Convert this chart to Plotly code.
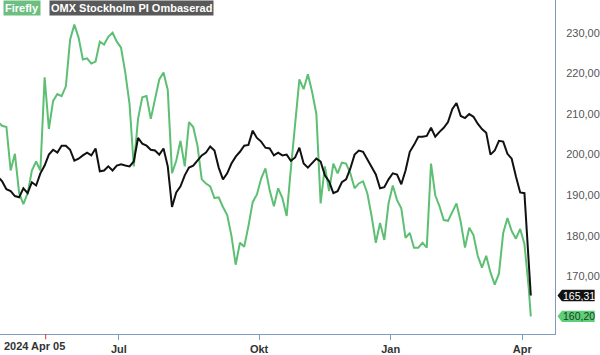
import plotly.graph_objects as go

# Trading-day index (0 = 2024-04-05), sampled every second trading day, last = 2025-04-07
day_index = list(range(0, 251, 2)) + [251]

firefly = [
    208.0, 207.1, 206.8, 196.1, 200.2, 190.5, 187.8, 190.5, 196.1, 198.3,
    196.1, 219.0, 206.3, 213.2, 214.9, 214.4, 216.8, 228.3, 232.0, 228.8,
    223.4, 223.7, 222.4, 222.9, 227.8, 227.1, 229.0, 230.0, 227.8, 226.3,
    220.2, 212.4, 197.1, 208.8, 214.1, 214.4, 208.8, 213.7, 218.5, 220.2,
    215.9, 195.4, 198.5, 203.4, 197.1, 208.0, 206.8, 202.2, 193.9, 192.9,
    192.2, 189.3, 189.5, 187.1, 185.1, 180.0, 172.9, 178.3, 177.3, 182.4,
    188.3, 190.2, 194.1, 196.6, 191.2, 187.3, 191.7, 189.3, 184.9, 196.6,
    207.1, 218.5, 216.1, 219.8, 215.4, 210.0, 188.0, 197.1, 191.0, 197.8,
    195.4, 198.0, 197.8, 195.4, 191.7, 192.9, 193.4, 190.5, 184.9, 178.3,
    183.2, 179.0, 188.0, 192.4, 188.8, 186.8, 179.5, 180.7, 177.1, 177.1,
    178.3, 177.1, 197.8, 190.0, 187.3, 183.9, 183.7, 185.9, 188.0, 183.4,
    177.1, 182.0, 180.2, 175.1, 172.2, 175.1, 171.0, 168.0, 170.7, 180.7,
    184.4, 181.2, 179.3, 181.7, 178.0, 167.3,
    160.20,
]

omx = [
    194.6, 193.4, 191.5, 191.0, 189.8, 189.5, 191.7, 190.5, 193.2, 192.4,
    195.4, 197.3, 200.0, 201.2, 200.5, 202.2, 202.2, 201.2, 198.5, 199.0,
    199.8, 200.5, 199.8, 201.5, 195.9, 196.1, 197.1, 196.1, 197.3, 197.6,
    197.3, 197.1, 198.3, 204.1, 202.7, 202.2, 201.2, 201.0, 200.0, 201.5,
    197.1, 187.1, 190.7, 192.2, 194.9, 196.8, 197.3, 198.5, 199.8, 200.5,
    202.0, 201.0, 196.8, 193.9, 195.4, 197.8, 199.5, 200.7, 202.2, 202.4,
    205.9, 204.1, 203.2, 201.7, 201.5, 199.8, 200.5, 199.8, 200.0, 198.5,
    199.3, 201.7, 197.8, 196.8, 198.0, 199.0, 198.3, 194.9, 193.4, 190.5,
    191.0, 193.2, 193.9, 196.6, 200.0, 201.0, 200.7, 198.8, 196.8, 195.1,
    191.7, 192.0, 193.9, 195.4, 195.1, 192.7, 196.1, 200.7, 202.4, 204.4,
    204.4, 204.6, 206.6, 204.4, 205.6, 206.6, 208.0, 211.2, 212.7, 209.5,
    209.0, 210.0, 209.3, 207.6, 206.3, 205.4, 200.0, 201.0, 203.4, 203.2,
    200.2, 199.0, 194.6, 190.7, 190.5, 173.4,
    165.31,
]

month_ticks = [57, 123, 185, 247]
month_labels = ["Jul", "Okt", "Jan", "Apr"]
y_ticks = [170, 180, 190, 200, 210, 220, 230]
y_labels = ["170,00", "180,00", "190,00", "200,00", "210,00", "220,00", "230,00"]
start_label = "2024 Apr 05"
event_day = 22.5

GREEN = "#5dbf73"
BLACK = "#111111"
AXIS = "#7f9cbf"
FONT = "Arial, Liberation Sans, sans-serif"

fig = go.Figure()
fig.add_trace(go.Scatter(x=day_index, y=firefly, mode="lines",
                         line=dict(color=GREEN, width=2), name="Firefly"))
fig.add_trace(go.Scatter(x=day_index, y=omx, mode="lines",
                         line=dict(color=BLACK, width=2), name="OMX Stockholm PI Ombaserad"))

fig.update_layout(
    width=600, height=355,
    margin=dict(l=0, r=40, t=0, b=18),
    paper_bgcolor="white", plot_bgcolor="white",
    showlegend=False,
    font=dict(family=FONT),
    xaxis=dict(range=[0.98, 262.4], showgrid=False, zeroline=False,
               showline=True, linecolor=AXIS, linewidth=1,
               tickvals=month_ticks, ticktext=month_labels,
               ticks="outside", ticklen=5, tickcolor=AXIS,
               tickfont=dict(size=11, color="#333333", weight="bold")),
    yaxis=dict(range=[155.85, 238.05], side="right", showgrid=False, zeroline=False,
               showline=True, linecolor=AXIS, linewidth=1,
               tickvals=y_ticks, ticktext=y_labels, ticks="",
               ticklabelstandoff=8,
               tickfont=dict(size=11, color="#555555")),
)

# red event tick
fig.add_shape(type="line", xref="x", yref="paper", x0=event_day, x1=event_day,
              y0=0, y1=-0.016, line=dict(color="#e03030", width=1))

fig.add_annotation(xref="paper", yref="paper", x=0.003, y=-0.036, xanchor="left",
                   yanchor="middle", text=start_label, showarrow=False,
                   font=dict(size=11, color="#333333", weight="bold"))

# legend boxes
fig.add_annotation(xref="paper", yref="paper", x=0.005, y=1.0, xanchor="left", yanchor="top",
                   text="Firefly", showarrow=False, bgcolor="#6cbf80", borderpad=1,
                   font=dict(size=11, color="white", weight="bold"))
fig.add_annotation(xref="paper", yref="paper", x=0.089, y=1.0, xanchor="left", yanchor="top",
                   text="OMX Stockholm PI Ombaserad", showarrow=False, bgcolor="#595959",
                   borderpad=1, font=dict(size=11, color="white", weight="bold"))

# end-value tags
def tag(value, fill, text_color, label):
    h = 1.4
    tip, body, end = 1.0045, 1.0125, 1.0714
    path = (f"M {tip},{value} L {body},{value + h} L {end},{value + h} "
            f"L {end},{value - h} L {body},{value - h} Z")
    fig.add_shape(type="path", xref="paper", yref="y", path=path,
                  fillcolor=fill, line=dict(width=0), layer="above")
    fig.add_annotation(xref="paper", yref="y", x=1.012, y=value, xanchor="left",
                       text=label, showarrow=False, borderpad=0,
                       font=dict(size=10.5, color=text_color))

tag(omx[-1], "#111111", "white", "165,31")
tag(firefly[-1], "#5ccf78", "#1f3f1f", "160,20")

fig.write_html("out.html")
